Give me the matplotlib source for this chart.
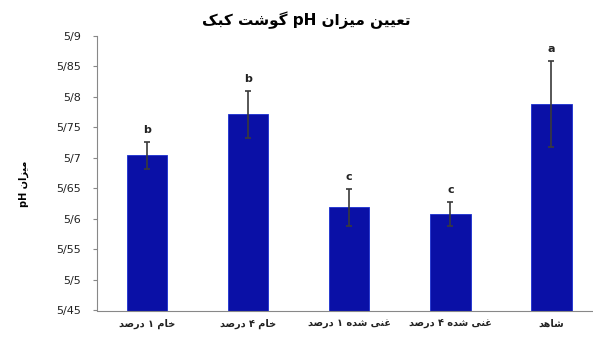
import matplotlib.pyplot as plt

# داده‌ها
categories = ['خام ۱ درصد', 'خام ۴ درصد', 'غنی شده ۱ درصد', 'غنی شده ۴ درصد', 'شاهد']
ph_values = [5.704, 5.771, 5.619, 5.608, 5.788]
ph_errors = [0.022, 0.038, 0.030, 0.019, 0.070]
letters = ['b', 'b', 'c', 'c', 'a']
yticks = [5.45, 5.5, 5.55, 5.6, 5.65, 5.7, 5.75, 5.8, 5.85, 5.9]
title = 'تعیین میزان pH گوشت کبک'
ylabel = 'میزان pH'

# اشکال حروف: (جدا، پایانی، آغازی، میانی)
forms = {
    'ا': ('\uFE8D', '\uFE8E', None, None),
    'ب': ('\uFE8F', '\uFE90', '\uFE91', '\uFE92'),
    'ت': ('\uFE95', '\uFE96', '\uFE97', '\uFE98'),
    'خ': ('\uFEA5', '\uFEA6', '\uFEA7', '\uFEA8'),
    'د': ('\uFEA9', '\uFEAA', None, None),
    'ر': ('\uFEAD', '\uFEAE', None, None),
    'ز': ('\uFEAF', '\uFEB0', None, None),
    'ش': ('\uFEB5', '\uFEB6', '\uFEB7', '\uFEB8'),
    'ص': ('\uFEB9', '\uFEBA', '\uFEBB', '\uFEBC'),
    'ع': ('\uFEC9', '\uFECA', '\uFECB', '\uFECC'),
    'غ': ('\uFECD', '\uFECE', '\uFECF', '\uFED0'),
    'م': ('\uFEE1', '\uFEE2', '\uFEE3', '\uFEE4'),
    'ن': ('\uFEE5', '\uFEE6', '\uFEE7', '\uFEE8'),
    'ه': ('\uFEE9', '\uFEEA', '\uFEEB', '\uFEEC'),
    'و': ('\uFEED', '\uFEEE', None, None),
    'ی': ('\uFBFC', '\uFBFD', '\uFBFE', '\uFBFF'),
    'ک': ('\uFB8E', '\uFB8F', '\uFB90', '\uFB91'),
    'گ': ('\uFB92', '\uFB93', '\uFB94', '\uFB95'),
}


def fa(text):
    # شکل‌دهی ساده و برگرداندن ترتیب برای نمایش راست به چپ
    out = []
    for i, ch in enumerate(text):
        if ch not in forms:
            out.append(ch)
            continue
        prev = text[i - 1] if i > 0 else ''
        nxt = text[i + 1] if i + 1 < len(text) else ''
        join_prev = prev in forms and forms[prev][2] is not None
        join_next = nxt in forms and forms[ch][2] is not None
        f = forms[ch]
        if join_prev and join_next:
            out.append(f[3])
        elif join_prev:
            out.append(f[1])
        elif join_next:
            out.append(f[2])
        else:
            out.append(f[0])
    # ترتیب بصری: بخش‌های لاتین دست نخورده می‌مانند
    runs = []
    for ch in out:
        ltr = ch.isascii() and ch.isalnum()
        if runs and runs[-1][0] == ltr:
            runs[-1][1].append(ch)
        else:
            runs.append([ltr, [ch]])
    vis = []
    for ltr, chars in reversed(runs):
        vis.append(''.join(chars) if ltr else ''.join(reversed(chars)))
    return ''.join(vis)


plt.rcParams['font.family'] = ['DejaVu Sans']

fig = plt.figure(figsize=(5.93, 3.45), dpi=100)
ax = fig.add_axes([0.163, 0.1, 0.852, 0.797])

x = range(len(categories))
ax.bar(x, ph_values, width=0.4, color='#0A10A6', edgecolor='#1a2fd0', linewidth=0.6, zorder=2)
ax.errorbar(x, ph_values, yerr=ph_errors, fmt='none', ecolor='#3a3a3a',
            elinewidth=1.2, capsize=2.5, capthick=1.2, zorder=3)

for i, (v, e, l) in enumerate(zip(ph_values, ph_errors, letters)):
    ax.annotate(l, (i, v + e), xytext=(0, 5), textcoords='offset points',
                ha='center', va='bottom', fontsize=8, fontweight='bold', color='#222222')

ax.set_xlim(-0.5, 4.5)
ax.set_ylim(5.45, 5.9)
ax.set_yticks(yticks)
ax.set_yticklabels([('%g' % t).replace('.', '/') for t in yticks], fontsize=8, color='#222222')
ax.set_xticks(list(x))
ax.set_xticklabels([fa(c) for c in categories], fontsize=7, fontweight='bold', color='#222222')
ax.tick_params(axis='x', length=0, pad=6)
ax.tick_params(axis='y', length=3, width=0.8, color='#888888', pad=8)

for s in ['top', 'right']:
    ax.spines[s].set_visible(False)
ax.spines['left'].set_color('#888888')
ax.spines['bottom'].set_color('#888888')

ax.set_ylabel(fa(ylabel), fontsize=7, fontweight='bold')
ax.yaxis.set_label_coords(-0.133, 0.46)
fig.text(0.516, 0.94, fa(title), ha='center', va='center', fontsize=11, fontweight='bold')

plt.savefig('out.png', dpi=100)
